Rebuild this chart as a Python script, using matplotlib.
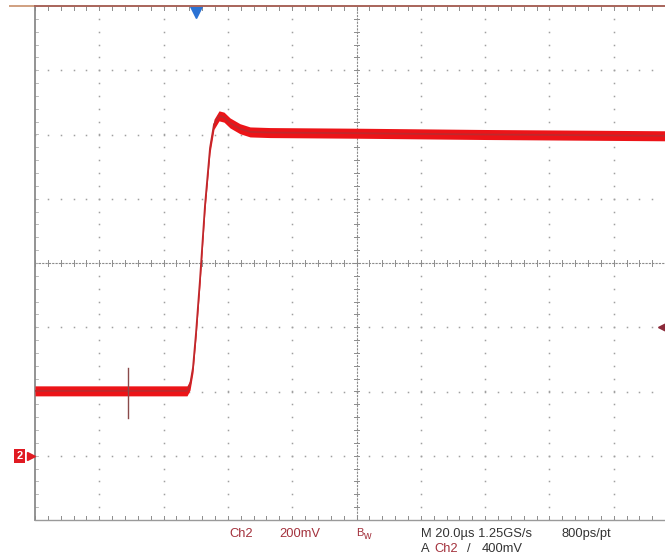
import numpy as np
import matplotlib
matplotlib.use("Agg")
import matplotlib.pyplot as plt

plt.rcParams['font.family'] = ['Liberation Sans', 'DejaVu Sans']

# waveform, in divisions (x from left edge, y from centre)
t_div = [0.0, 2.364, 2.411, 2.457, 2.504, 2.566, 2.644, 2.722, 2.784,
         2.862, 2.939, 3.033, 3.188, 3.344, 3.655, 5.0, 7.0, 9.8]
v_div = [-1.99, -1.99, -1.90, -1.63, -1.09, -0.26, 0.90, 1.79, 2.16,
         2.29, 2.27, 2.18, 2.09, 2.04, 2.03, 2.02, 2.0, 1.98]
band = 0.078  # half thickness of the noisy trace

trig_pos = 2.504      # trigger position marker (top)
trig_level = -1.0     # 400 mV trigger level (right)
ch2_ground = -3.0     # channel 2 ground marker (left)
cursor_x = 1.446
cursor_y = (-1.64, -2.42)

row1 = [("Ch2", 229, '#a3313c'), ("200mV", 279, '#a3313c'),
        ("M 20.0\u00b5s 1.25GS/s", 421, '#333333'), ("800ps/pt", 561, '#333333')]
row2 = [("A", 421, '#333333'), ("Ch2", 434, '#a3313c'),
        ("/", 467, '#333333'), ("400mV", 482, '#333333')]

W, H = 665, 558
fig = plt.figure(figsize=(W / 100, H / 100), dpi=100)
fig.patch.set_facecolor('white')
ax = fig.add_axes([35 / W, 38 / H, 630 / W, 514 / H])
xmax = 630 / 64.3
ax.set_xlim(0, xmax)
ax.set_ylim(-4, 4)
ax.axis('off')

grid_c = '#a0a0a0'
# dotted graticule
yy = np.arange(-4, 4.01, 0.2)
xx = np.arange(0, xmax, 0.2)
for k in range(1, 10):
    if k == 5:
        continue
    ax.plot(np.full_like(yy, k), yy, ls='none', marker='s', ms=1.1,
            color=grid_c, mew=0)
for k in range(-3, 4):
    if k == 0:
        continue
    ax.plot(xx, np.full_like(xx, k), ls='none', marker='s', ms=1.1,
            color=grid_c, mew=0)

# centre crosshair with minor ticks
tick_c = '#8c8c8c'
ax.plot([0, xmax], [0, 0], color=tick_c, lw=0.8, dashes=(2, 1))
ax.plot([5, 5], [-4, 4], color=tick_c, lw=0.8, dashes=(2, 1))
for x in xx:
    ax.plot([x, x], [-0.045, 0.045], color=tick_c, lw=0.7)
    ax.plot([x, x], [-4, -3.94], color=tick_c, lw=0.7)
    ax.plot([x, x], [4, 3.94], color=tick_c, lw=0.7)
for y in yy:
    ax.plot([4.955, 5.045], [y, y], color=tick_c, lw=0.7)
    ax.plot([0, 0.05], [y, y], color='#b0b0b0', lw=0.6)

# borders
ax.plot([0, 0], [-4, 4], color='#8a8a8a', lw=1.3, clip_on=False)
ax.plot([0, xmax], [-4, -4], color='#9a9a9a', lw=1.0, clip_on=False)
fig.add_artist(plt.Line2D([10 / W, 35 / W], [1 - 6 / H, 1 - 6 / H],
                          color='#d0a080', lw=1.4))
fig.add_artist(plt.Line2D([35 / W, 1], [1 - 6 / H, 1 - 6 / H],
                          color='#a8645a', lw=1.4))

# trace
t = np.array(t_div)
v = np.array(v_div)
ax.fill_between(t, v - band, v + band, color='#ec1418', lw=0, zorder=5)
ax.plot(t, v, color='#c0282c', lw=1.3, zorder=6)

# markers
ax.plot([cursor_x, cursor_x], cursor_y, color='#8a4a4a', lw=1.0, zorder=7)
ax.plot([trig_pos], [3.9], marker='v', ms=9, color='#2a72d4',
        clip_on=False, zorder=8)
ax.plot([xmax - 0.05], [trig_level], marker='<', ms=6, color='#8b2a3a',
        clip_on=False, zorder=8)
ax.text(-0.24, ch2_ground, "2", color='white', fontsize=8, fontweight='bold',
        ha='center', va='center', clip_on=False,
        bbox=dict(boxstyle='square,pad=0.2', fc='#e01a22', ec='none'))
ax.plot([-0.06], [ch2_ground], marker='>', ms=6, color='#e01a22',
        clip_on=False)

# readout text
for s, x, c in row1:
    fig.text(x / W, 1 - 534 / H, s, color=c, fontsize=9.3, va='center')
fig.text(356 / W, 1 - 533 / H, "B", color='#a3313c', fontsize=8, va='center')
fig.text(363 / W, 1 - 536 / H, "w", color='#a3313c', fontsize=7.5, va='center')
for s, x, c in row2:
    fig.text(x / W, 1 - 549 / H, s, color=c, fontsize=9.3, va='center')

fig.savefig('out.png', dpi=100, facecolor='white')
